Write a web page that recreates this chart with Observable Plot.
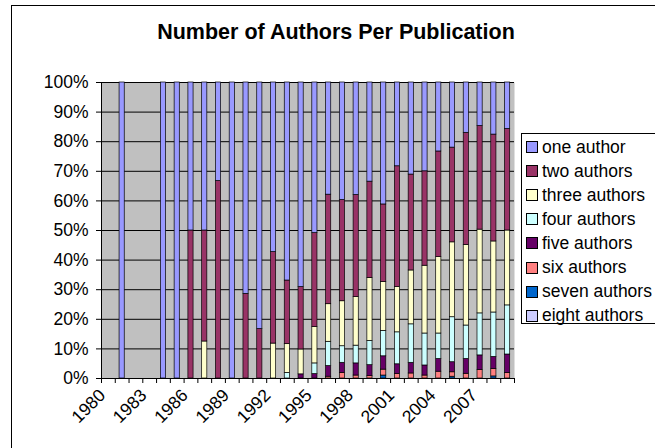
<!DOCTYPE html>
<html><head><meta charset="utf-8">
<script src="https://cdn.jsdelivr.net/npm/d3@7"></script>
<script src="https://cdn.jsdelivr.net/npm/@observablehq/plot@0.6"></script>
<style>
html,body{margin:0;padding:0;background:#fff;}
#wrap{position:relative;width:655px;height:448px;overflow:hidden;font-family:"Liberation Sans",Arial,sans-serif;}
#border{position:absolute;left:11px;top:5px;width:700px;height:500px;border:1px solid #000;}
#title{position:absolute;left:0;width:672px;top:20px;text-align:center;font-weight:bold;font-size:21.5px;color:#000;}
#chart{position:absolute;left:0;top:0;}
#legend{position:absolute;left:521px;top:133px;width:200px;height:189px;border:1px solid #000;background:#fff;}
.item{position:absolute;left:4px;height:24px;display:flex;align-items:center;font-size:17.5px;white-space:nowrap;color:#000;}
.sw{width:10px;height:10px;border:1px solid #000;margin-right:4px;flex:none;}
</style>
</head><body>
<div id="wrap">
  <div id="border"></div>
  <div id="title">Number of Authors Per Publication</div>
  <div id="chart"></div>
  <div id="legend"></div>
</div>
<script>
const years = d3.range(1980, 2010);
const labelYears = [1980, 1983, 1986, 1989, 1992, 1995, 1998, 2001, 2004, 2007];
const seriesNames = ["one author","two authors","three authors","four authors","five authors","six authors","seven authors","eight authors"];
const seriesColors = ["#9999FF","#993366","#FFFFCC","#CCFFFF","#660066","#FF8080","#0066CC","#CCCCFF"];

// percentages per year, 1980..2009
const oneAuthor    = [0,100,0,0,100,100,50,50,33.3,100,71.4,83.3,57.3,66.9,69.1,50.9,37.9,39.7,38.0,33.5,41.2,28.3,31.1,30.0,23.3,22.0,17.0,14.7,17.6,15.7];
const twoAuthors   = [0,0,0,0,0,0,50,37.5,66.7,0,28.6,16.7,30.9,21.5,21.1,31.7,37.0,34.2,34.5,32.5,26.2,40.8,32.4,31.9,35.7,32.0,37.9,35.0,36.1,34.3];
const threeAuthors = [0,0,0,0,0,0,0,12.5,0,0,0,0,11.8,9.7,8.4,12.3,12.7,15.2,16.4,21.3,16.5,15.3,18.2,22.9,25.8,25.3,27.2,28.3,24.0,25.3];
const fourAuthors  = [0,0,0,0,0,0,0,0,0,0,0,0,0,1.9,0,3.6,8.2,5.6,6.0,8.2,8.6,10.8,13.0,10.8,8.6,15.2,11.3,14.2,15.0,16.6];
const fiveAuthors  = [0,0,0,0,0,0,0,0,0,0,0,0,0,0,1.4,1.5,3.6,3.4,4.1,3.7,4.5,3.3,3.6,3.4,4.3,3.4,5.0,4.9,4.1,6.2];
const sixAuthors   = [0,0,0,0,0,0,0,0,0,0,0,0,0,0,0,0,0.6,1.9,1.0,0.8,2.0,1.5,1.7,1.0,2.3,1.5,1.6,2.9,2.5,1.9];
const sevenAuthors = [0,0,0,0,0,0,0,0,0,0,0,0,0,0,0,0,0,0,0,0,1.0,0,0,0,0,0.6,0,0,0.7,0];
const eightAuthors = [0,0,0,0,0,0,0,0,0,0,0,0,0,0,0,0,0,0,0,0,0,0,0,0,0,0,0,0,0,0];

const seriesValues = [oneAuthor, twoAuthors, threeAuthors, fourAuthors, fiveAuthors, sixAuthors, sevenAuthors, eightAuthors];

// stack bottom-to-top: eight authors first, one author last
const data = [];
for (let s = seriesNames.length - 1; s >= 0; s--) {
  years.forEach((yr, i) => {
    const v = seriesValues[s][i];
    if (v > 0) data.push({year: yr, series: seriesNames[s], value: v});
  });
}

const font = '"Liberation Sans", Arial, sans-serif';
const chart = Plot.plot({
  width: 655, height: 448,
  marginLeft: 101, marginRight: 141, marginTop: 82, marginBottom: 70,
  style: {fontFamily: font, fontSize: "17.5px", background: "transparent", color: "#000"},
  x: {domain: [1980, 2010]},
  y: {domain: [0, 1]},
  color: {domain: seriesNames, range: seriesColors},
  marks: [
    Plot.frame({fill: "#C0C0C0", stroke: "none"}),
    Plot.gridY({ticks: 10, stroke: "#000", strokeOpacity: 1, strokeWidth: 1}),
    Plot.rectY(data, Plot.stackY({
      x1: "year", x2: d => d.year + 1, y: "value", fill: "series",
      offset: "normalize", insetLeft: 4.3, insetRight: 4.3,
      stroke: "#000", strokeWidth: 0.7
    })),
    Plot.ruleX([1980], {stroke: "#000"}),
    Plot.ruleY([0], {stroke: "#000"}),
    Plot.axisX(d3.range(1980, 2011), {tickSize: 5, tickFormat: () => "", label: null, stroke: "#000"}),
    Plot.axisX(labelYears.map(y => y + 0.5), {tickRotate: -45, tickSize: 0, tickPadding: 14, dx: -6,
      tickFormat: d => String(d - 0.5), label: null, fontSize: 17.5}),
    Plot.axisY({ticks: 10, tickFormat: d3.format(".0%"), tickSize: 5, tickPadding: 8, label: null, fontSize: 17.5})
  ]
});
document.getElementById("chart").appendChild(chart);

const legend = document.getElementById("legend");
seriesNames.forEach((name, i) => {
  const item = document.createElement("div");
  item.className = "item";
  item.style.top = (1 + i * 24.1) + "px";
  const sw = document.createElement("div");
  sw.className = "sw";
  sw.style.background = seriesColors[i];
  item.appendChild(sw);
  item.appendChild(document.createTextNode(name));
  legend.appendChild(item);
});
</script>
</body></html>
